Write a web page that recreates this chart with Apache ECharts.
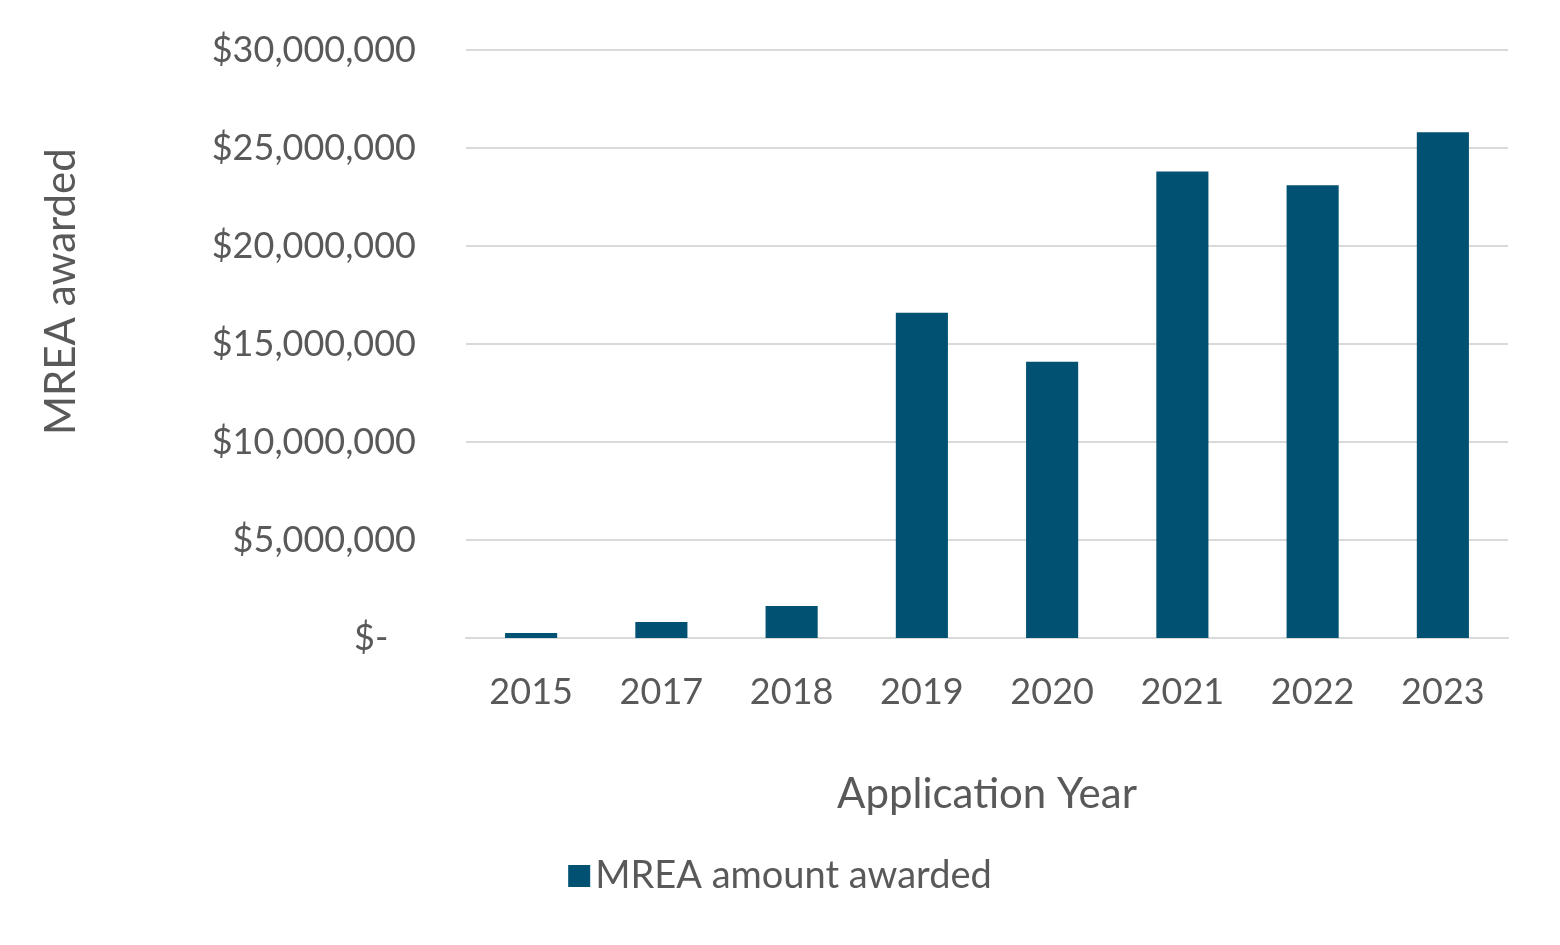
<!DOCTYPE html>
<html><head><meta charset="utf-8">
<script src="https://cdn.jsdelivr.net/npm/echarts@6/dist/echarts.min.js"></script>
<style>html,body{margin:0;padding:0;background:#fff}#c{width:1560px;height:945px}</style>
</head><body><div id="c"></div>
<script>
const categories = ['2015','2017','2018','2019','2020','2021','2022','2023'];
const awarded = [260000, 820000, 1630000, 16600000, 14100000, 23800000, 23100000, 25800000];
const seriesName = 'MREA amount awarded';
const FONT = 'Lato, "Open Sans", sans-serif';
const chart = echarts.init(document.getElementById('c'));
chart.setOption({
  animation:false,
  textStyle:{fontFamily:FONT},
  grid:{left:466,right:52,top:50,bottom:307},
  legend:{bottom:45,left:'center',itemWidth:22,itemHeight:22,icon:'rect',
    textStyle:{fontSize:38,color:'#595959',fontFamily:FONT},data:[seriesName]},
  xAxis:{type:'category',data:categories,
    axisLine:{lineStyle:{color:'#d9d9d9',width:2}},axisTick:{show:false},
    axisLabel:{fontSize:36,color:'#595959',margin:36},
    name:'Application Year',nameLocation:'middle',nameGap:135,
    nameTextStyle:{fontSize:42,color:'#595959'}},
  yAxis:{type:'value',min:0,max:30000000,interval:5000000,
    axisLabel:{fontSize:36,color:'#595959',margin:50,
      formatter:v=>v===0?'$-   ':'$'+v.toLocaleString('en-US')},
    splitLine:{lineStyle:{color:'#d9d9d9',width:2}}},
  graphic:[{type:'text',left:40,top:85,rotation:Math.PI/2,
    style:{text:'MREA awarded',fontSize:42,fill:'#595959',fontFamily:FONT},
    x:40,y:435,left:null,top:null}],
  series:[{name:seriesName,type:'bar',data:awarded,barWidth:'40%',itemStyle:{color:'#005172'}}]
});
</script></body></html>
